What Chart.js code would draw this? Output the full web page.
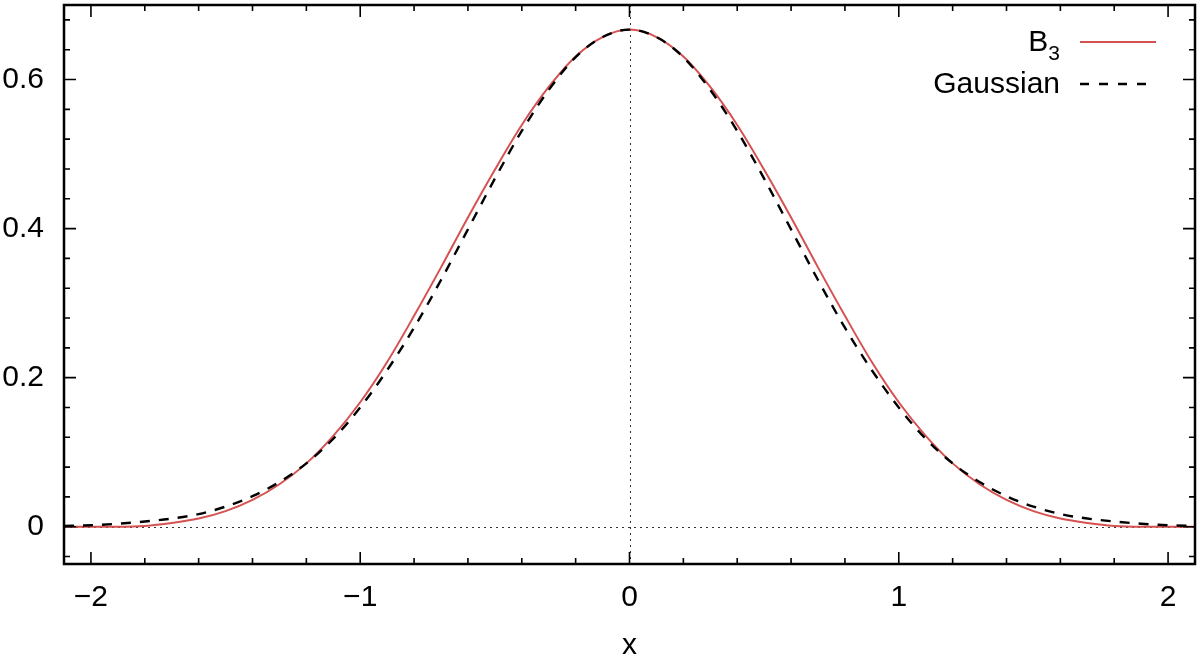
<!DOCTYPE html>
<html>
<head>
<meta charset="utf-8">
<script src="https://cdn.jsdelivr.net/npm/chart.js@4.4.0/dist/chart.umd.min.js"></script>
<style>
  html, body { margin: 0; padding: 0; background: #fff; }
</style>
</head>
<body>
<canvas id="myChart" width="1200" height="661"></canvas>
<script>
// sample points along x (every 0.1)
const xValues = [-2.1, -2.0, -1.9, -1.8, -1.7, -1.6, -1.5, -1.4, -1.3, -1.2, -1.1,
                 -1.0, -0.9, -0.8, -0.7, -0.6, -0.5, -0.4, -0.3, -0.2, -0.1,
                  0.0,  0.1,  0.2,  0.3,  0.4,  0.5,  0.6,  0.7,  0.8,  0.9,
                  1.0,  1.1,  1.2,  1.3,  1.4,  1.5,  1.6,  1.7,  1.8,  1.9, 2.0, 2.1];

// B3 (red solid)
const b3Values = [0.000, 0.000, 0.000, 0.001, 0.005, 0.011, 0.021, 0.036, 0.057, 0.085, 0.122,
                  0.167, 0.221, 0.283, 0.348, 0.415, 0.479, 0.539, 0.590, 0.631, 0.657,
                  0.667, 0.657, 0.631, 0.590, 0.539, 0.479, 0.415, 0.348, 0.283, 0.221,
                  0.167, 0.122, 0.085, 0.057, 0.036, 0.021, 0.011, 0.005, 0.001, 0.000, 0.000, 0.000];

// Gaussian (black dashed)
const gaussValues = [0.001, 0.002, 0.004, 0.007, 0.011, 0.017, 0.027, 0.041, 0.060, 0.085, 0.118,
                     0.160, 0.210, 0.267, 0.331, 0.399, 0.467, 0.531, 0.586, 0.630, 0.657,
                     0.667, 0.657, 0.630, 0.586, 0.531, 0.467, 0.399, 0.331, 0.267, 0.210,
                     0.160, 0.118, 0.085, 0.060, 0.041, 0.027, 0.017, 0.011, 0.007, 0.004, 0.002, 0.001];

const xTicks = [-2, -1, 0, 1, 2];
const yTicks = [0, 0.2, 0.4, 0.6];

const FONT = '"Liberation Sans", Arial, Helvetica, sans-serif';
const RED = '#d65151';

const toPoints = (ys) => xValues.map((x, i) => ({ x: x, y: ys[i] }));

// frame, inward ticks (major + minor, mirrored), dotted zero axes, legend
const framePlugin = {
  id: 'frame',
  beforeDatasetsDraw(chart) {
    const { ctx, chartArea: a, scales: { x, y } } = chart;
    ctx.save();
    ctx.strokeStyle = '#333';
    ctx.lineWidth = 1;
    ctx.setLineDash([2, 4]);
    const y0 = Math.round(y.getPixelForValue(0)) + 0.5;
    const x0 = Math.round(x.getPixelForValue(0)) + 0.5;
    ctx.beginPath();
    ctx.moveTo(a.left, y0); ctx.lineTo(a.right, y0);
    ctx.moveTo(x0, a.top); ctx.lineTo(x0, a.bottom);
    ctx.stroke();
    ctx.restore();
  },
  afterDatasetsDraw(chart) {
    const { ctx, chartArea: a, scales: { x, y } } = chart;
    ctx.save();
    ctx.strokeStyle = '#000';
    ctx.setLineDash([]);
    ctx.lineWidth = 1.6;
    ctx.beginPath();
    for (let v = -2.0; v <= 2.001; v += 0.2) {
      const major = Math.abs(v - Math.round(v)) < 1e-6;
      const len = major ? 12 : 6;
      const px = x.getPixelForValue(v);
      ctx.moveTo(px, a.bottom); ctx.lineTo(px, a.bottom - len);
      ctx.moveTo(px, a.top); ctx.lineTo(px, a.top + len);
    }
    for (let v = -0.04; v <= 0.681; v += 0.04) {
      const major = yTicks.some(t => Math.abs(t - v) < 1e-6);
      const len = major ? 12 : 6;
      const py = y.getPixelForValue(v);
      ctx.moveTo(a.left, py); ctx.lineTo(a.left + len, py);
      ctx.moveTo(a.right, py); ctx.lineTo(a.right - len, py);
    }
    ctx.stroke();

    ctx.lineWidth = 2.5;
    ctx.strokeRect(a.left, a.top, a.right - a.left, a.bottom - a.top);

    // legend
    const right = 1060;
    ctx.fillStyle = '#000';
    ctx.textBaseline = 'alphabetic';
    ctx.textAlign = 'right';
    ctx.font = '21px ' + FONT;
    const subW = ctx.measureText('3').width;
    ctx.fillText('3', right, 60);
    ctx.font = '30px ' + FONT;
    ctx.fillText('B', right - subW, 51);
    ctx.fillText('Gaussian', right, 93);

    ctx.lineWidth = 2;
    ctx.strokeStyle = RED;
    ctx.beginPath(); ctx.moveTo(1080, 42); ctx.lineTo(1156, 42); ctx.stroke();
    ctx.strokeStyle = '#000';
    ctx.lineWidth = 2.4;
    ctx.setLineDash([9, 10]);
    ctx.beginPath(); ctx.moveTo(1080, 84); ctx.lineTo(1156, 84); ctx.stroke();
    ctx.restore();
  }
};

const data = {
  datasets: [
    {
      label: 'B3',
      data: toPoints(b3Values),
      borderColor: RED,
      borderWidth: 2,
      pointRadius: 0,
      cubicInterpolationMode: 'monotone',
      order: 1
    },
    {
      label: 'Gaussian',
      data: toPoints(gaussValues),
      borderColor: '#000',
      borderWidth: 2.4,
      borderDash: [10, 9],
      pointRadius: 0,
      cubicInterpolationMode: 'monotone',
      order: 0
    }
  ]
};

const config = {
  type: 'line',
  data: data,
  options: {
    responsive: false,
    animation: false,
    devicePixelRatio: 1,
    layout: { padding: { top: 5, right: 5, left: 0, bottom: 0 } },
    plugins: {
      legend: { display: false },
      tooltip: { enabled: false }
    },
    scales: {
      x: {
        type: 'linear',
        min: -2.1,
        max: 2.1,
        afterBuildTicks: (scale) => { scale.ticks = xTicks.map(v => ({ value: v })); },
        afterFit: (scale) => {
          scale.height = 97;
          scale.paddingLeft = 0; scale.paddingRight = 0;
        },
        grid: { display: false, drawTicks: false },
        border: { display: false },
        ticks: {
          padding: 16,
          color: '#000',
          font: { family: FONT, size: 30 },
          maxRotation: 0,
          callback: (v) => String(v).replace('-', '\u2212')
        },
        title: {
          display: true,
          text: 'x',
          color: '#000',
          font: { family: FONT, size: 30, lineHeight: 1 },
          padding: { top: 0, bottom: 0 }
        }
      },
      y: {
        type: 'linear',
        min: -0.05,
        max: 0.7,
        afterBuildTicks: (scale) => { scale.ticks = yTicks.map(v => ({ value: v })); },
        afterFit: (scale) => {
          scale.width = 64;
          scale.paddingTop = 0; scale.paddingBottom = 0;
        },
        grid: { display: false, drawTicks: false },
        border: { display: false },
        ticks: {
          padding: 20,
          color: '#000',
          font: { family: FONT, size: 30 },
          callback: (v) => String(v)
        }
      }
    }
  },
  plugins: [framePlugin]
};

const myChart = new Chart(document.getElementById('myChart'), config);
</script>
</body>
</html>
